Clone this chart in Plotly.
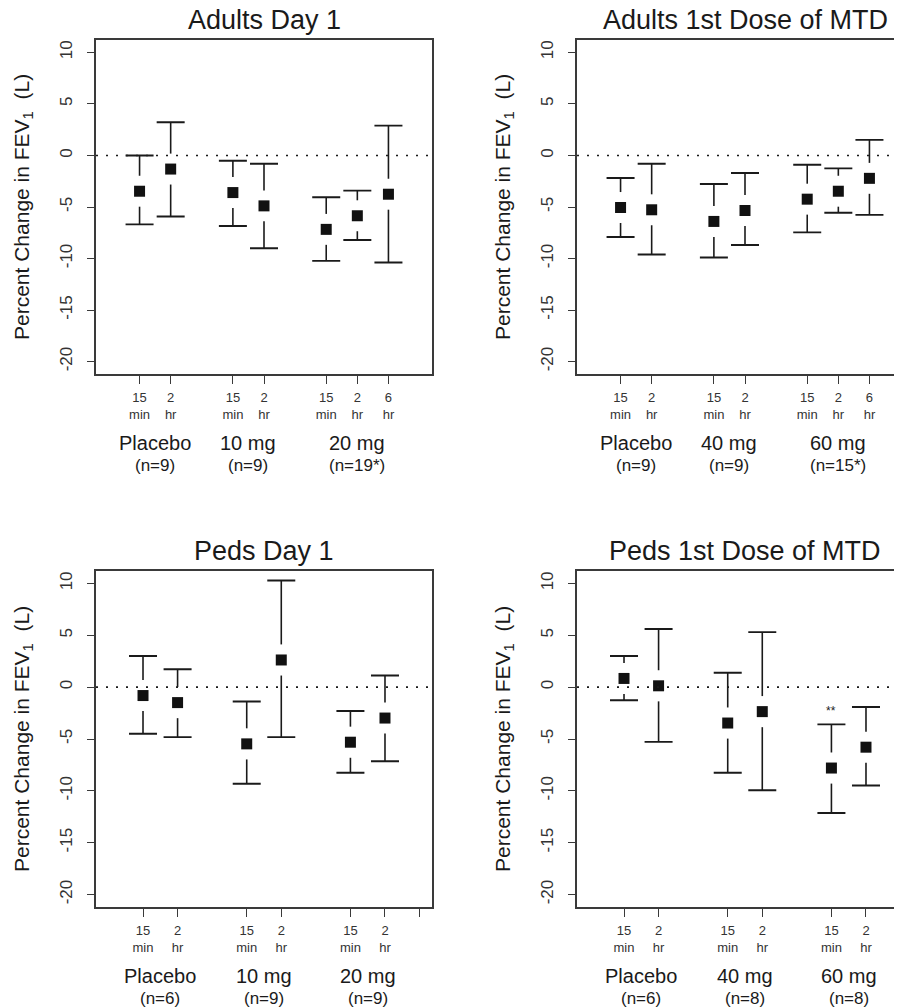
import plotly.graph_objects as go

# page is 902x1008; the html body adds an 8px margin, so the figure is 8px smaller
PAGE_W, PAGE_H = 902, 1008
OFF = 8
W, H = PAGE_W - OFF, PAGE_H - OFF

# ---------------- data ----------------
adult_pos = [1, 2, 4, 5, 7, 8, 9]
peds_pos = [1, 2, 4, 5, 7, 8]
adult_ticks = [1, 2, 4, 5, 7, 8, 9]
peds_ticks = [1, 2, 4, 5, 7, 8]
peds_extra_tick = [9]
adult_time = ["15<br>min", "2<br>hr", "15<br>min", "2<br>hr", "15<br>min", "2<br>hr", "6<br>hr"]
peds_time = ["15<br>min", "2<br>hr", "15<br>min", "2<br>hr", "15<br>min", "2<br>hr"]

# Adults Day 1
ad1_mean = [-3.47, -1.32, -3.60, -4.89, -7.17, -5.85, -3.76]
ad1_upper = [0.00, 3.22, -0.51, -0.80, -4.05, -3.41, 2.89]
ad1_lower = [-6.69, -5.92, -6.85, -9.00, -10.23, -8.20, -10.39]

# Adults 1st Dose of MTD
adm_mean = [-5.05, -5.27, -6.40, -5.34, -4.24, -3.47, -2.22]
adm_upper = [-2.19, -0.80, -2.77, -1.70, -0.90, -1.25, 1.51]
adm_lower = [-7.91, -9.61, -9.90, -8.68, -7.46, -5.56, -5.76]

# Peds Day 1
pd1_mean = [-0.81, -1.49, -5.47, 2.62, -5.31, -2.98]
pd1_upper = [3.01, 1.72, -1.39, 10.29, -2.30, 1.13]
pd1_lower = [-4.50, -4.82, -9.32, -4.82, -8.25, -7.15]

# Peds 1st Dose of MTD
pdm_mean = [0.84, 0.13, -3.46, -2.36, -7.80, -5.79]
pdm_upper = [3.01, 5.60, 1.39, 5.31, -3.59, -1.91]
pdm_lower = [-1.26, -5.28, -8.25, -9.94, -12.14, -9.48]
pdm_sig = ["", "", "", "", "**", ""]

titles = ["Adults Day 1", "Adults 1st Dose of MTD", "Peds Day 1", "Peds 1st Dose of MTD"]
ad1_groups = ["Placebo", "10 mg", "20 mg"]
adm_groups = ["Placebo", "40 mg", "60 mg"]
pd1_groups = ["Placebo", "10 mg", "20 mg"]
pdm_groups = ["Placebo", "40 mg", "60 mg"]
ad1_n = ["(n=9)", "(n=9)", "(n=19*)"]
adm_n = ["(n=9)", "(n=9)", "(n=15*)"]
pd1_n = ["(n=6)", "(n=9)", "(n=9)"]
pdm_n = ["(n=6)", "(n=8)", "(n=8)"]
adult_group_x = [1.5, 4.5, 8]
peds_group_x = [1.5, 4.5, 7.5]

y_ticks = [-20, -15, -10, -5, 0, 5, 10]
y_ticktext = ["-20", "-15", "-10", "-5", "0", "5", "10"]
y_range = [-21.2, 11.2]

# ---------------- layout geometry (page pixels) ----------------
LEFT_BOX = (96, 432)
RIGHT_BOX = (577, 913)   # right panels run past the page edge
TOP_BOX = (40, 374)
BOT_BOX = (571, 907)
GAP = 1.5  # gap around the point marker (data units)

FONT = "Liberation Sans, Arial, Helvetica, sans-serif"
INK = "#1a1a1a"
AX = "#3a3a3a"


def px2fx(px):
    return (px - OFF) / W


def px2fy(py):
    return 1 - (py - OFF) / H


panels = [
    dict(pos=adult_pos, mean=ad1_mean, up=ad1_upper, lo=ad1_lower, ticks=adult_ticks, tt=adult_time, extra=[],
         xr=(-0.4, 10.4), box=LEFT_BOX, row=TOP_BOX, groups=ad1_groups, ns=ad1_n, gx=adult_group_x, right=False),
    dict(pos=adult_pos, mean=adm_mean, up=adm_upper, lo=adm_lower, ticks=adult_ticks, tt=adult_time, extra=[],
         xr=(-0.4, 10.4), box=RIGHT_BOX, row=TOP_BOX, groups=adm_groups, ns=adm_n, gx=adult_group_x, right=True),
    dict(pos=peds_pos, mean=pd1_mean, up=pd1_upper, lo=pd1_lower, ticks=peds_ticks, tt=peds_time,
         extra=peds_extra_tick,
         xr=(-0.36, 9.36), box=LEFT_BOX, row=BOT_BOX, groups=pd1_groups, ns=pd1_n, gx=peds_group_x, right=False),
    dict(pos=peds_pos, mean=pdm_mean, up=pdm_upper, lo=pdm_lower, ticks=peds_ticks, tt=peds_time,
         extra=peds_extra_tick,
         xr=(-0.36, 9.36), box=RIGHT_BOX, row=BOT_BOX, groups=pdm_groups, ns=pdm_n, gx=peds_group_x, right=True),
]

fig = go.Figure()
layout_axes = {}
annotations = []
shapes = []
page_right = OFF + W

for k, p in enumerate(panels):
    idx = "" if k == 0 else str(k + 1)
    xref, yref = "x" + idx, "y" + idx
    x0px, x1px = p["box"]
    unit = (x1px - x0px) / (p["xr"][1] - p["xr"][0])
    xr = list(p["xr"])
    x1vis = min(x1px, page_right)
    xr[1] = xr[0] + (x1vis - x0px) / unit
    dom_x = [px2fx(x0px), px2fx(x1vis)]
    dom_y = [px2fy(p["row"][1]), px2fy(p["row"][0])]

    # vertical error lines with a gap around the point
    vx, vy = [], []
    for xp, m, u, l in zip(p["pos"], p["mean"], p["up"], p["lo"]):
        if u > m + GAP:
            vx += [xp, xp, None]
            vy += [u, m + GAP, None]
        if l < m - GAP:
            vx += [xp, xp, None]
            vy += [m - GAP, l, None]
    fig.add_trace(go.Scatter(x=vx, y=vy, mode="lines", line=dict(color=INK, width=1.6),
                             xaxis=xref, yaxis=yref, showlegend=False, hoverinfo="skip"))
    # caps (zero-length error bars at the interval ends)
    ends_x = list(p["pos"]) + list(p["pos"])
    ends_y = list(p["up"]) + list(p["lo"])
    fig.add_trace(go.Scatter(x=ends_x, y=ends_y, mode="markers",
                             marker=dict(size=2, color="rgba(0,0,0,0)"),
                             error_y=dict(type="data", array=[0] * len(ends_y), arrayminus=[0] * len(ends_y),
                                          symmetric=False, width=14, thickness=1.9, color=INK, visible=True),
                             xaxis=xref, yaxis=yref, showlegend=False, hoverinfo="skip"))
    # means
    fig.add_trace(go.Scatter(x=p["pos"], y=p["mean"], mode="markers",
                             marker=dict(symbol="square", size=11, color="#111111", line=dict(width=0)),
                             xaxis=xref, yaxis=yref, showlegend=False))

    # zero reference line
    shapes.append(dict(type="line", xref=xref + " domain", yref=yref, x0=0, x1=1, y0=0, y1=0,
                       line=dict(color=INK, width=1.6, dash="2px,8px")))

    xax = dict(
        domain=dom_x, range=xr, anchor=yref, tickmode="array", tickvals=p["ticks"], ticktext=p["tt"],
        ticks="outside", ticklen=8, tickwidth=1.4, tickcolor=AX, showline=True, linecolor=AX, linewidth=1.5,
        mirror=True, showgrid=False, zeroline=False, tickfont=dict(size=13, color="#333", family=FONT),
        automargin=False, fixedrange=True, ticklabelstandoff=3)
    if p["extra"]:
        xax["minor"] = dict(tickmode="array", tickvals=p["extra"], ticks="outside", ticklen=8,
                            tickwidth=1.4, tickcolor=AX, showgrid=False)
    layout_axes["xaxis" + idx] = xax
    layout_axes["yaxis" + idx] = dict(
        domain=dom_y, range=y_range, anchor=xref, tickmode="array", tickvals=y_ticks, ticktext=y_ticktext,
        tickangle=-90, ticks="outside", ticklen=7.5, tickwidth=1.4, tickcolor=AX, showline=True, linecolor=AX,
        linewidth=1.5, mirror=(not p["right"]), showgrid=False, zeroline=False,
        tickfont=dict(size=17, color="#333", family=FONT), automargin=False, fixedrange=True, ticklabelstandoff=8)

    # panel title
    annotations.append(dict(text=titles[k], x=px2fx((x0px + x1px) / 2), xref="paper",
                            y=px2fy(p["row"][0] - 20), yref="paper", showarrow=False, xanchor="center",
                            yanchor="middle", font=dict(size=27, color=INK, family=FONT)))
    # y title
    annotations.append(dict(text="Percent Change in FEV<sub>1</sub>  (L)", x=px2fx(x0px - 73), xref="paper",
                            y=px2fy((p["row"][0] + p["row"][1]) / 2), yref="paper", textangle=-90,
                            showarrow=False, xanchor="center", yanchor="middle",
                            font=dict(size=21, color=INK, family=FONT)))
    # group labels
    for g, n, gx in zip(p["groups"], p["ns"], p["gx"]):
        annotations.append(dict(text=g, x=gx, xref=xref, y=px2fy(p["row"][1] + 69), yref="paper",
                                showarrow=False, xanchor="center", yanchor="middle",
                                font=dict(size=20, color=INK, family=FONT)))
        annotations.append(dict(text=n, x=gx, xref=xref, y=px2fy(p["row"][1] + 91), yref="paper",
                                showarrow=False, xanchor="center", yanchor="middle",
                                font=dict(size=17, color=INK, family=FONT)))

# significance marks (Peds 1st Dose of MTD)
for xp, u, s in zip(peds_pos, pdm_upper, pdm_sig):
    if s:
        annotations.append(dict(text=s, x=xp, xref="x4", y=u, yref="y4", yshift=4, showarrow=False,
                                xanchor="center", yanchor="bottom", font=dict(size=12, color=INK, family=FONT)))

fig.update_layout(
    width=W, height=H, margin=dict(l=0, r=0, t=0, b=0),
    paper_bgcolor="white", plot_bgcolor="white",
    font=dict(family=FONT, color=INK),
    annotations=annotations, shapes=shapes, showlegend=False,
    **layout_axes)

fig.write_html("out.html")
